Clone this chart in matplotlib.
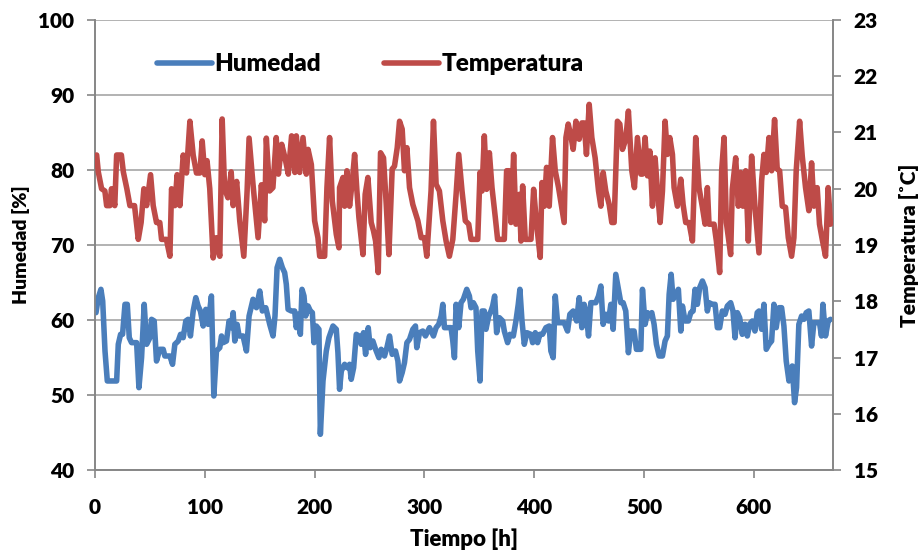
import matplotlib
matplotlib.use("Agg")
import matplotlib.pyplot as plt
from matplotlib.lines import Line2D

plt.rcParams['font.family'] = ['Lato', 'DejaVu Sans']
plt.rcParams['font.weight'] = 800

# ---------------- data ----------------
hum_t = [0.9, 3, 5.4, 7, 9.1, 11.2, 14.2, 17.3, 19.7, 21.2, 23.3, 25.1, 27.3, 29.4, 31.2, 33.3, 35.8, 37.9, 40, 42.4,
         44.8, 47, 50, 51.5, 53.9, 56, 59, 62.1, 63.6, 68.2, 70.6, 72.7, 75.8, 77.9, 80.3, 82.7, 84.8, 86.9, 89.4, 91.8,
         93.9, 96, 98.5, 100.9, 103, 106, 108.2, 110.6, 113.6, 115.2, 116.7, 119.7, 122.1, 124.2, 125.8, 127.3, 129.4,
         131.2, 134.8, 137.9, 140.3, 143.9, 147, 150, 152.4, 155.5, 159.1, 162.1, 163.9, 165.8,
         168.2, 170.6, 172.7, 174.2, 175.8, 178.8, 181.8, 183.3, 184.9, 187, 188.5, 190.3, 191.8, 194, 196.1, 197.9,
         199.4, 201.5, 203.9, 205.2, 207.6, 210.6, 213, 216.7, 219.7, 221.2, 222.7, 224.3, 227.3, 229.7, 231.8, 233.3,
         235.5, 237.9, 240.3, 242.4, 244.5, 246.4, 248.8, 250.6, 253, 255.5, 258.5, 260.6, 263.6, 265.8, 268.2, 270.6,
         273.6, 275.8, 277.3, 279.7, 281.8, 284, 286.4, 289.4, 291.8, 293, 295.5, 298.5, 300.9, 304.6, 308.2, 310.6,
         313, 315.2, 316.7, 318.2, 321.2, 324.2, 325.8, 327.3, 328.8,
         331.2, 333.3, 335.4, 338.5, 340.9, 342.4, 344.5, 346.9, 348.5, 350.6, 352.4, 354.5, 356, 358.5, 360.6, 362.1,
         363.9, 365.7, 368.2, 371.2, 372.7, 375.7, 377.9, 380.9, 383.3, 385.4, 386.9, 388.8, 390.9, 393.3, 396.9, 398.5,
         400.9, 403, 405.1, 407.5, 410.6, 413.6, 415.1, 417.2, 419.1, 421.2, 424.2, 427.2, 430.3, 432.4, 435.4, 438.5,
         440.9, 443.3, 445.4, 446.9, 449.4, 451.5, 453.6, 456, 458.5, 460.6, 462.7, 465.1, 467.6, 469.7, 471.8, 474.2,
         476.6, 478.8, 480.9, 483.3, 485.7, 487.9, 490.9, 493,
         494.9, 497, 498.5, 500.9, 503.1, 505.2, 507, 509.1, 511.2, 513.7, 516.7, 519.1, 521.2, 522.8, 524.6, 526.4,
         528.8, 531.2, 533.4, 534.9, 537.3, 540.3, 542.5, 544.6, 546.4, 548.5, 550.6, 553.1, 555.5, 557.6, 559.1, 562.2,
         564.6, 566.7, 568.8, 571.2, 573.7, 575.8, 578.8, 580.9, 582.8, 584.9, 587, 589.4, 591.9, 594, 596.1, 598.5,
         600.9, 603, 604.6, 607, 609.1, 611.2, 613.7, 616.1, 618.2, 620.3, 622.8, 625.2, 627.3, 629.4, 631.9, 634.9,
         637, 638.8, 640.9, 643.4, 645.5, 647.6, 650, 652.5, 654.6, 657.6, 659.7, 661.5, 662.8, 665.2, 667.6, 669.7]
hum_v = [60.98, 62.98, 64.09, 62.53, 55.87, 51.87, 51.87, 51.87, 51.87, 56.76, 58.09, 58.09, 62.09, 62.09, 57.64, 56.98,
         56.98, 56.98, 50.98, 54.98, 62.09, 56.76, 57.64, 60.09, 59.87, 54.53, 56.09, 56.09, 55.2, 55.2, 54.09, 56.76,
         57.2, 58.09, 57.64, 59.87, 60.09, 57.87, 61.2, 62.98, 61.87, 61.2, 59.2, 61.42, 59.42, 63.2, 49.87, 55.87,
         56.31, 57.87, 56.98, 57.2, 59.87, 58.98, 60.98, 57.2, 59.42, 57.87, 57.87, 55.87, 60.53, 62.76, 61.64, 63.87,
         61.2, 61.64, 59.42, 57.87, 60.53, 66.98,
         68.09, 66.98, 66.31, 64.76, 61.42, 61.2, 61.2, 58.98, 60.76, 58.09, 64.09, 63.2, 60.53, 61.87, 61.2, 60.98,
         56.98, 59.2, 58.76, 44.76, 51.87, 55.87, 57.64, 59.2, 58.76, 55.64, 50.76, 53.2, 54.09, 53.64, 54.09, 52.09,
         53.64, 58.09, 57.87, 56.76, 58.31, 55.42, 58.98, 56.31, 57.2, 56.09, 54.98, 56.09, 55.2, 56.31, 57.87, 55.42,
         55.87, 54.53, 51.87, 52.98, 54.31, 56.98, 57.42, 58.76, 59.2, 56.31, 58.31, 58.53, 57.87, 58.98, 57.87, 58.98,
         59.42, 60.53, 62.09, 58.98, 58.98, 58.98, 57.2, 54.98, 62.09,
         58.98, 62.31, 62.76, 64.09, 63.2, 61.64, 62.31, 61.64, 55.87, 51.87, 61.2, 61.2, 58.76, 60.53, 61.2, 61.87,
         63.2, 58.31, 60.31, 59.87, 58.53, 56.98, 58.09, 57.87, 59.87, 62.09, 64.09, 59.87, 56.76, 58.31, 58.09, 56.98,
         58.31, 56.98, 58.09, 58.09, 58.98, 59.2, 55.87, 54.98, 63.2, 59.64, 59.64, 59.64, 58.53, 60.76, 61.2, 59.87,
         62.98, 58.98, 62.09, 61.2, 57.87, 62.31, 62.31, 62.31, 63.2, 64.53, 59.42, 60.76, 59.87, 62.09, 58.76, 66.09,
         64.09, 62.31, 62.31, 61.2, 55.64, 58.53, 58.53, 56.09,
         56.09, 56.09, 64.09, 59.42, 60.98, 60.53, 60.98, 59.42, 56.76, 55.2, 55.2, 57.2, 57.87, 63.42, 66.09, 62.76,
         63.42, 64.09, 58.53, 61.87, 59.87, 59.87, 60.98, 61.2, 64.09, 62.09, 64.31, 65.2, 64.31, 61.2, 62.31, 62.09,
         62.09, 58.98, 58.98, 61.2, 60.76, 61.87, 62.31, 61.2, 57.64, 60.98, 60.31, 58.09, 59.42, 57.87, 59.42, 59.87,
         58.53, 60.98, 61.2, 58.76, 62.09, 56.09, 56.76, 57.2, 62.09, 58.98, 61.64, 61.64, 59.2, 54.53, 51.87, 53.87,
         48.98, 50.98, 59.42, 60.53, 60.09, 60.98, 61.2, 56.53, 59.64, 59.64, 59.64, 57.87, 62.09, 57.87, 59.87, 60.09]

temp_t = [1.5, 3, 6, 9, 10.6, 13.6, 15, 18, 19.7, 24, 25.8, 29, 31.8, 36, 39.4, 42, 44.5, 47, 50.6, 53, 56, 59, 60.6,
          65, 68.2, 69.7, 72.7, 74.8, 77.3, 80.3, 83.3, 86.4, 89.4, 92.4, 95.5, 97.6, 100, 102, 104.5, 107.6, 110.6,
          113.6, 115.8, 118, 121, 124, 125.8, 129, 131.8, 135.5, 138.5, 140.3, 144, 148.5, 151.5, 154.5, 156,
          159, 162, 165, 167, 170, 173, 176, 179, 182, 183.3, 186.4, 189.4, 192.4, 194, 197, 200, 203, 204.6, 209.1,
          211.2, 213.6, 216.1, 219.7, 222.1, 222.7, 225.8, 227.3, 229.4, 231.8, 234.3, 236.4, 238.5, 240.3, 244, 246,
          248.5, 251.5, 253.6, 255.5, 257.9, 260, 262.7, 265.2, 267.6, 270.6, 272.7, 275.2, 277.3, 279.7, 281.8, 284,
          286.4, 289.4, 294, 297, 300, 302.1, 306, 308.2, 310.6, 313.6, 316.7, 319.7, 322.7, 325.8, 328.8, 331.2,
          334.2, 337.2, 340.3, 342.4, 348.5, 350.6, 352.4, 354.5, 356.6, 359.1, 361.5, 364.5, 366.6, 372.7, 374.8,
          377.2, 378.8, 381.2, 383.3, 386.3, 387.9, 389.4, 391.8, 397, 399.4, 402.1, 405.4, 407, 409.1, 411.2, 413.6,
          416.6, 419.1, 422.1, 427.2, 428.8, 430.9, 433.3, 435.4, 437.9, 440.9, 443.3, 445.4, 447.5, 450, 452.4,
          455.4, 458.5, 460.6, 462.7, 465.1, 468.2, 470.6, 472.7, 475.7, 477.9, 480.3, 483.3, 485.7, 488.8, 491.2,
          493.9, 497, 498.5, 500.9, 503.1, 505.2, 507.6, 510, 512.2, 514.6, 516.7, 519.1, 521.2, 523.4, 525.8, 527.3,
          530.3, 533.4, 535.5, 537.9, 540.9, 544, 547, 550, 553.1, 555.5, 557.6, 559.1, 563.7, 565.8, 568.8, 570.6,
          572.8, 574.9, 578.8, 580.3, 583.4, 585.8, 587.9, 590, 592.5, 594.9, 597.9, 600.9, 604.6, 607, 609.1, 611.2,
          613.7, 616.1, 618.8, 621.2, 623.4, 625.8, 628.8, 631.3, 634.3, 636.4, 638.5, 641.6, 644, 647, 650, 652.5,
          654.6, 657.6, 659.7, 662.2, 665.2, 667.6, 669.7]
temp_v = [20.6, 20.3, 20.0, 19.96, 19.7, 19.7, 20.0, 19.7, 20.6, 20.6, 20.3, 20.0, 19.7, 19.7, 19.1, 19.4, 20.0, 19.7,
          20.25, 19.7, 19.4, 19.4, 19.1, 19.1, 18.8, 20.0, 19.7, 20.25, 19.7, 20.6, 20.28, 21.2, 20.6, 20.28, 20.28,
          20.85, 20.25, 20.5, 20.0, 18.77, 19.13, 18.8, 21.24, 20.0, 19.84, 20.3, 19.7, 20.13, 19.43, 18.8, 19.96,
          20.9, 20.05, 19.13, 20.07, 19.43, 20.9,
          19.96, 20.02, 20.91, 20.26, 20.79, 20.55, 20.26, 20.94, 20.29, 20.94, 20.29, 20.91, 20.26, 20.70, 20.43,
          19.43, 19.13, 18.80, 18.80, 20.02, 20.91, 19.78, 19.19, 18.95, 20.02, 20.20, 19.69, 20.32, 19.69, 20.14,
          20.61, 19.96, 19.49, 18.83, 19.90, 20.20, 19.40, 19.25, 19.07, 18.51, 20.64, 20.55, 19.72, 18.83, 20.35,
          20.40, 20.73, 21.20, 21.06, 20.32, 20.73, 20.02, 19.72, 19.43, 19.13, 19.13, 18.80, 19.96, 21.20, 20.08,
          19.96, 19.43, 19.07, 18.80, 19.10, 19.90, 20.61,
          19.96, 19.43, 19.37, 19.10, 19.10, 20.29, 19.96, 20.94, 19.99, 20.64, 20.02, 19.49, 19.10, 19.10, 20.32,
          20.32, 19.40, 20.61, 19.37, 19.90, 19.07, 20.05, 19.10, 19.10, 19.99, 19.37, 18.78, 20.11, 19.69, 20.38,
          19.69, 20.91, 20.32, 20.02, 19.40, 20.91, 21.15, 20.94, 20.70, 21.20, 20.88, 21.17, 21.17, 20.61, 21.50,
          20.91, 20.55, 19.96, 19.69, 20.29, 19.96, 19.72, 19.40, 19.40, 21.20, 21.15, 20.70, 20.88, 21.38, 20.32,
          20.02, 20.91,
          20.26, 20.26, 20.91, 20.23, 20.67, 19.69, 20.55, 19.96, 19.40, 19.96, 21.20, 20.61, 20.91, 20.61, 20.02,
          19.69, 20.17, 19.72, 19.40, 19.40, 19.07, 20.91, 20.02, 19.67, 19.37, 20.02, 19.37, 19.37, 19.07, 18.51,
          20.32, 20.91, 19.40, 18.83, 19.99, 20.55, 19.69, 20.29, 19.69, 20.32, 19.07, 20.58, 19.69, 18.86, 20.14,
          20.61, 20.29, 20.91, 20.32, 21.23, 20.35, 20.32, 19.69, 19.67, 19.13, 18.80, 19.13, 20.32, 21.20, 20.58,
          20.02, 19.61, 20.46, 19.69, 20.02, 19.37, 19.10, 18.80, 20.02, 19.37]

x_ticks = [0, 100, 200, 300, 400, 500, 600]
hum_ticks = [40, 50, 60, 70, 80, 90, 100]
temp_ticks = [15, 16, 17, 18, 19, 20, 21, 22, 23]

BLUE = '#4A7EBB'
RED = '#BE4B48'
GRID = '#A6A6A6'
AXC = '#868686'
W = 800
LW = 4.0

fig = plt.figure(figsize=(9.24, 5.56), dpi=100)
ax = fig.add_axes([95/924, 1 - 470/556, (833 - 95)/924, 450/556])
ax2 = ax.twinx()

ax.plot(hum_t, hum_v, color=BLUE, lw=LW, solid_joinstyle='round', solid_capstyle='round', zorder=3)
ax2.plot(temp_t, temp_v, color=RED, lw=LW, solid_joinstyle='round', solid_capstyle='round', zorder=3)

ax.set_xlim(0, 672)
ax.set_ylim(40, 100)
ax2.set_ylim(15, 23)
ax.set_xticks(x_ticks)
ax.set_yticks(hum_ticks)
ax2.set_yticks(temp_ticks)

ax.yaxis.grid(True, color=GRID, lw=1.2)
ax.set_axisbelow(True)

for a in (ax, ax2):
    for s in a.spines.values():
        s.set_color(AXC)
        s.set_linewidth(1.2)
    a.spines['top'].set_visible(False)
    a.tick_params(colors=AXC, width=1.2, length=6, labelcolor='black', labelsize=15)

ax.tick_params(axis='y', pad=9)
ax.tick_params(axis='x', pad=14)
ax2.tick_params(axis='y', pad=9)
for lab in ax.get_xticklabels() + ax.get_yticklabels() + ax2.get_yticklabels():
    lab.set_fontweight(W)

ax.set_xlabel('Tiempo [h]', fontsize=16, fontweight=W, labelpad=8)
ax.set_ylabel('Humedad [%]', fontsize=14, fontweight=W, labelpad=6)
ax2.set_ylabel('Temperatura [˚C]', fontsize=15, fontweight=W, labelpad=15)

handles = [Line2D([0], [0], color=BLUE, lw=LW, solid_capstyle='round'),
           Line2D([0], [0], color=RED, lw=LW, solid_capstyle='round')]
leg = ax2.legend(handles, ['Humedad', 'Temperatura'], ncol=2, frameon=False,
                 loc='upper left', bbox_to_anchor=(0.055, 0.975),
                 handlelength=2.25, handletextpad=0.1, columnspacing=2.6,
                 prop={'weight': W, 'size': 17.5})

fig.savefig('out.png', dpi=100)
